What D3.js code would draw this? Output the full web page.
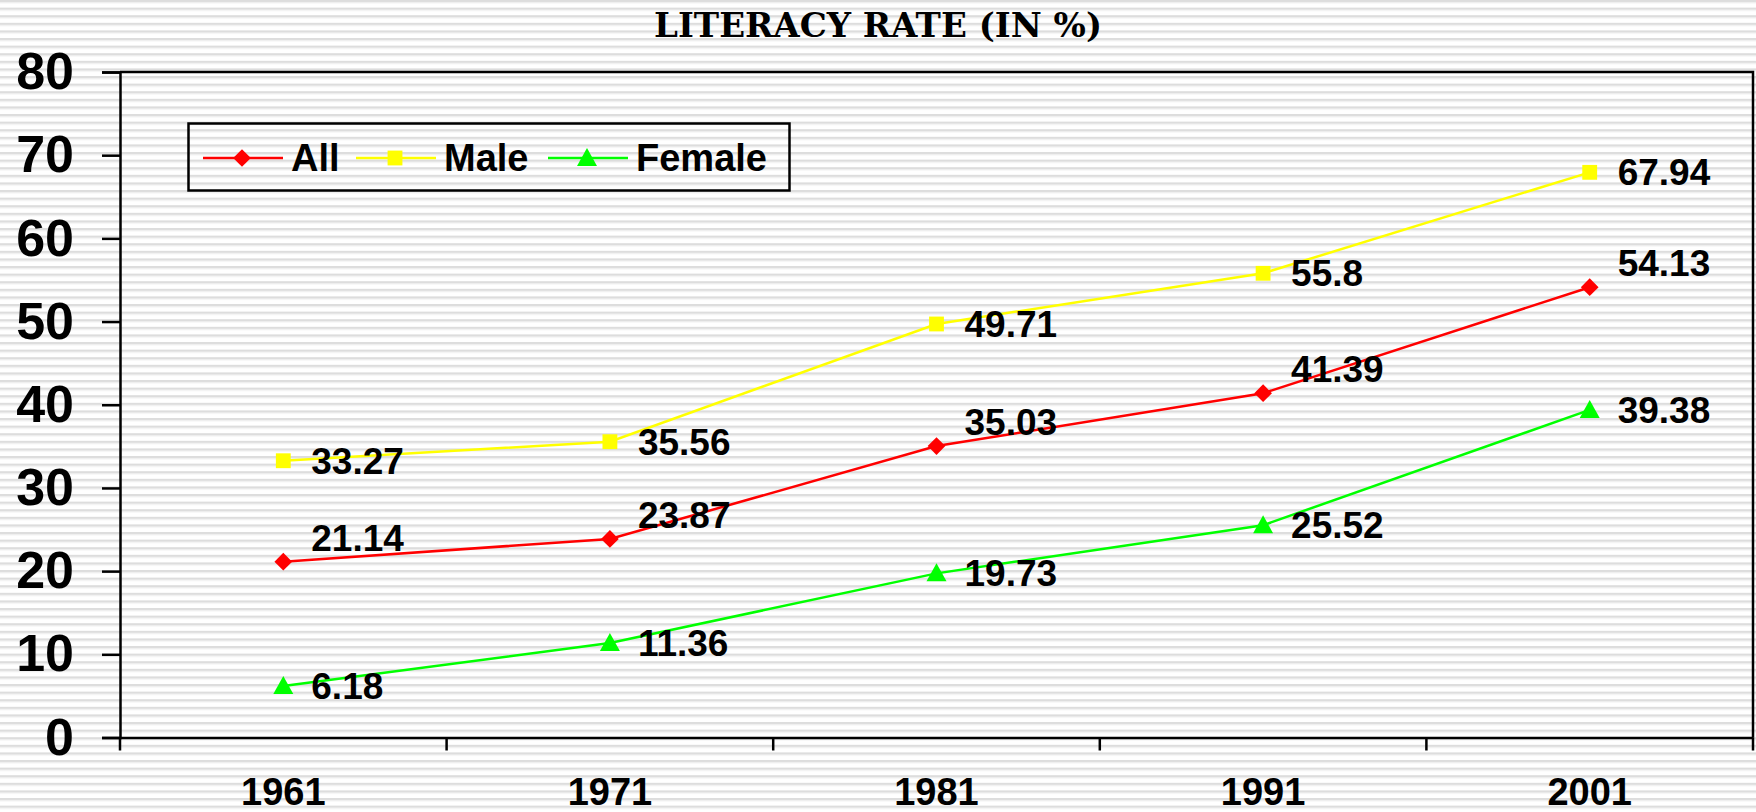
<!DOCTYPE html>
<html>
<head>
<meta charset="utf-8">
<script src="https://cdn.jsdelivr.net/npm/d3@7"></script>
<style>
  body { margin: 0; background: #fff; }
  svg { display: block; }
</style>
</head>
<body>
<svg id="chart" width="1756" height="812"></svg>
<script>
var years = ['1961', '1971', '1981', '1991', '2001'];
var allRate = [21.14, 23.87, 35.03, 41.39, 54.13];
var maleRate = [33.27, 35.56, 49.71, 55.8, 67.94];
var femaleRate = [6.18, 11.36, 19.73, 25.52, 39.38];
var yTicks = [0, 10, 20, 30, 40, 50, 60, 70, 80];

var series = [
  { name: 'All', values: allRate, color: '#ff0000', shape: 'diamond', above: true },
  { name: 'Male', values: maleRate, color: '#ffff00', shape: 'square', above: false },
  { name: 'Female', values: femaleRate, color: '#00ff00', shape: 'triangle', above: false }
];

var W = 1756, H = 812;
var plotLeft = 120, plotRight = 1753, plotTop = 72, plotBottom = 737.5;
function font(s) { return 'bold ' + s + 'px "Liberation Sans", Arial, sans-serif'; }

var svg = d3.select('#chart');

// striped background
var defs = svg.append('defs');
var pat = defs.append('pattern')
  .attr('id', 'stripes')
  .attr('patternUnits', 'userSpaceOnUse')
  .attr('width', 8).attr('height', 7.6);
pat.append('rect').attr('width', 8).attr('height', 7.6).attr('fill', '#ffffff');
pat.append('rect').attr('y', 0).attr('width', 8).attr('height', 2.2).attr('fill', '#dddddd');
pat.append('rect').attr('y', 2.2).attr('width', 8).attr('height', 1).attr('fill', '#ececec');

svg.append('rect').attr('width', W).attr('height', H).attr('fill', 'url(#stripes)');

var x = d3.scaleBand().domain(years).range([plotLeft, plotRight]);
var y = d3.scaleLinear().domain([0, 80]).range([plotBottom, plotTop]);
function cx(d) { return x(d) + x.bandwidth() / 2; }

// title
svg.append('text')
  .attr('x', 878).attr('y', 37)
  .attr('text-anchor', 'middle')
  .style('font', 'bold 34px "DejaVu Serif", serif')
  .text('LITERACY RATE (IN %)');

// frame: top and right border
svg.append('path')
  .attr('d', 'M' + plotLeft + ',' + plotTop + 'H' + plotRight + 'V' + plotBottom)
  .attr('fill', 'none').attr('stroke', '#000').attr('stroke-width', 2.5);

// y axis
var yAxis = svg.append('g')
  .attr('transform', 'translate(' + plotLeft + ',0)')
  .call(d3.axisLeft(y).tickValues(yTicks).tickSize(18).tickPadding(28).tickFormat(d3.format('d')));
yAxis.select('.domain').attr('stroke-width', 2.5);
yAxis.selectAll('.tick line').attr('stroke-width', 2.5);
yAxis.selectAll('.tick text').style('font', font(52)).attr('fill', '#000');

// x axis
var xAxis = svg.append('g')
  .attr('transform', 'translate(0,' + plotBottom + ')')
  .call(d3.axisBottom(x).tickSize(0).tickPadding(0));
xAxis.select('.domain').attr('stroke-width', 2.5);
xAxis.selectAll('.tick text').remove();
xAxis.selectAll('.tick line').remove();

// category boundary ticks
var bounds = years.map(function(d) { return x(d); }).concat([plotRight]);
svg.append('g').selectAll('line')
  .data(bounds)
  .enter().append('line')
  .attr('x1', function(d) { return d; }).attr('x2', function(d) { return d; })
  .attr('y1', plotBottom).attr('y2', plotBottom + 13)
  .attr('stroke', '#000').attr('stroke-width', 2.5);

svg.append('g').selectAll('text')
  .data(years)
  .enter().append('text')
  .attr('x', cx)
  .attr('y', 805)
  .attr('text-anchor', 'middle')
  .style('font', font(38))
  .text(function(d) { return d; });

function markerPath(shape) {
  if (shape === 'diamond') return d3.symbol().type(d3.symbolDiamond2).size(200)();
  if (shape === 'square') return d3.symbol().type(d3.symbolSquare2).size(280)();
  return 'M0,-10L10,8L-10,8Z';
}

var line = d3.line()
  .x(function(d, i) { return cx(years[i]); })
  .y(function(d) { return y(d); });

series.forEach(function(s) {
  var g = svg.append('g');
  g.append('path')
    .datum(s.values)
    .attr('d', line)
    .attr('fill', 'none')
    .attr('stroke', s.color)
    .attr('stroke-width', 2.5);

  g.selectAll('path.mk')
    .data(s.values)
    .enter().append('path')
    .attr('class', 'mk')
    .attr('d', markerPath(s.shape))
    .attr('transform', function(d, i) {
      return 'translate(' + cx(years[i]) + ',' + y(d) + ')';
    })
    .attr('fill', s.color);

  g.selectAll('text')
    .data(s.values)
    .enter().append('text')
    .attr('x', function(d, i) { return cx(years[i]) + 28; })
    .attr('y', function(d) { return y(d) + (s.above ? -24 : 0); })
    .attr('dy', '0.35em')
    .style('font', font(37))
    .text(function(d) { return d; });
});

// legend
var legend = svg.append('g');
legend.append('rect')
  .attr('x', 188.5).attr('y', 123.5)
  .attr('width', 601).attr('height', 67)
  .attr('fill', 'none').attr('stroke', '#000').attr('stroke-width', 2.5);

var legendX = [203, 356, 548];
var item = legend.selectAll('g.item')
  .data(series)
  .enter().append('g')
  .attr('class', 'item')
  .attr('transform', function(d, i) { return 'translate(' + legendX[i] + ',158)'; });
item.append('line')
  .attr('x1', 0).attr('x2', 80)
  .attr('stroke', function(d) { return d.color; })
  .attr('stroke-width', 2.5);
item.append('path')
  .attr('d', function(d) { return markerPath(d.shape); })
  .attr('transform', 'translate(39,0)')
  .attr('fill', function(d) { return d.color; });
item.append('text')
  .attr('x', 88)
  .attr('dy', '0.35em')
  .style('font', font(38))
  .text(function(d) { return d.name; });
</script>
</body>
</html>
